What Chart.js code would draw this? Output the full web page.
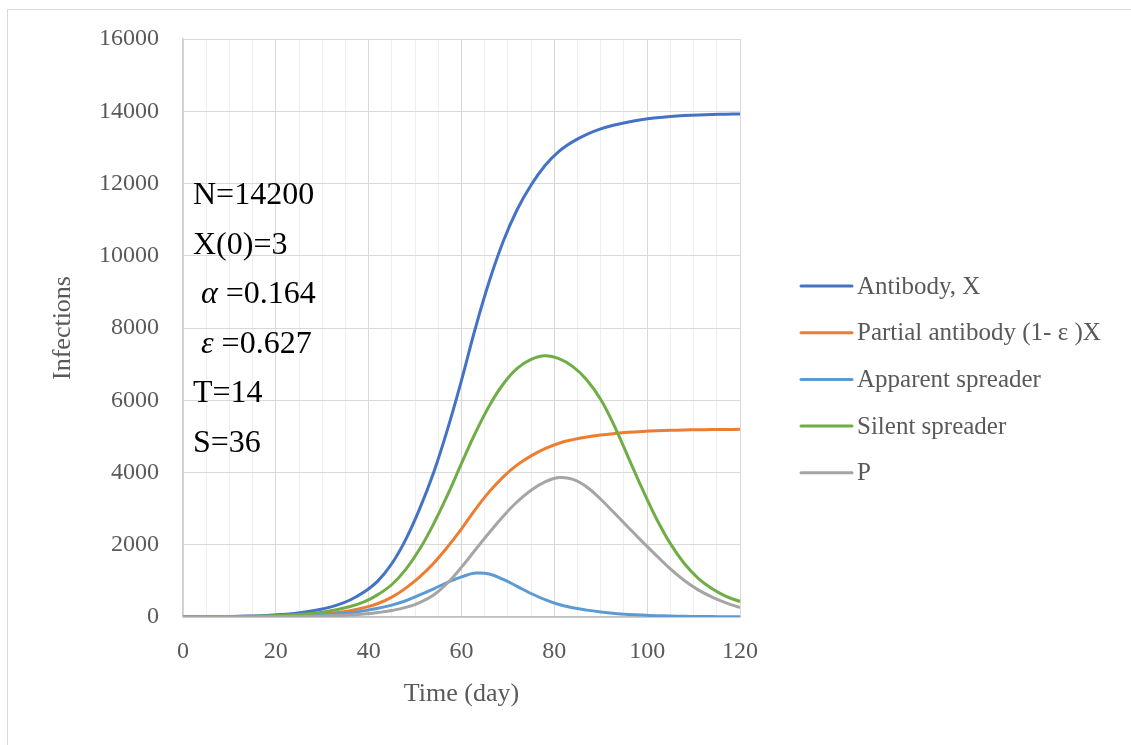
<!DOCTYPE html>
<html>
<head>
<meta charset="utf-8">
<script src="https://cdn.jsdelivr.net/npm/chart.js@4"></script>
<style>
    body { margin: 0; background: #fff; }
    .frame { position: absolute; left: 0; top: 0; width: 1131px; height: 745px; }
    .frame::before { content: ''; position: absolute; left: 7px; top: 9px; right: -5px; bottom: -5px; border: 1px solid #d9d9d9; }
    canvas { position: absolute; left: 0; top: 0; }
</style>
</head>
<body>
<div class="frame">
    <canvas id="chart" width="1131" height="745"></canvas>
</div>
<script>
// time in days, every 3 days
const days = [0, 3, 6, 9, 12, 15, 18, 21, 24, 27, 30, 33, 36, 39, 42, 45, 48, 51, 54, 57, 60,
    63, 66, 69, 72, 75, 78, 81, 84, 87, 90, 93, 96, 99, 102, 105, 108, 111, 114, 117, 120];

const seriesNames = ['Antibody, X', 'Partial antibody (1- ε )X', 'Apparent spreader', 'Silent spreader', 'P'];

const antibody = [3, 5, 8, 13, 20, 30, 45, 68, 100, 150, 220, 320, 470, 690, 1000, 1480, 2150, 3000, 4000, 5200, 6550,
    8000, 9300, 10400, 11280, 11960, 12500, 12890, 13160, 13360, 13510, 13620, 13705, 13770, 13820, 13855, 13880, 13898, 13910, 13919, 13925];

const partial = [1, 2, 3, 5, 7, 11, 17, 25, 37, 56, 82, 119, 175, 257, 373, 550, 800, 1110, 1490, 1940, 2440,
    2980, 3470, 3880, 4210, 4460, 4660, 4810, 4910, 4985, 5040, 5080, 5112, 5136, 5155, 5168, 5177, 5184, 5188, 5192, 5194];

const apparent = [0, 1, 2, 3, 5, 8, 12, 18, 27, 40, 58, 85, 120, 170, 240, 330, 450, 610, 780, 960, 1110,
    1215, 1190, 1040, 850, 650, 480, 345, 255, 190, 140, 100, 72, 52, 37, 27, 20, 15, 11, 8, 6];

const silent = [2, 3, 5, 8, 12, 18, 27, 40, 60, 90, 135, 200, 290, 420, 620, 900, 1320, 1880, 2580, 3380, 4250,
    5100, 5850, 6450, 6880, 7130, 7230, 7150, 6930, 6560, 6020, 5270, 4400, 3530, 2720, 2030, 1480, 1070, 780, 570, 430];

const pValues = [0, 0, 1, 1, 2, 3, 5, 8, 12, 18, 26, 38, 55, 82, 125, 180, 265, 400, 610, 940, 1380,
    1860, 2340, 2790, 3190, 3510, 3740, 3860, 3810, 3600, 3260, 2870, 2470, 2080, 1700, 1330, 1010, 750, 550, 390, 260];

const params = ['N=14200', 'X(0)=3', 'α =0.164', 'ε =0.627', 'T=14', 'S=36'];

const colors = ['#4472C4', '#ED7D31', '#5B9BD5', '#70AD47', '#A5A5A5'];
const serif = '"Liberation Serif", "DejaVu Serif", serif';

const toPoints = vals => vals.map((v, i) => ({ x: days[i], y: v }));
const allSeries = [antibody, partial, apparent, silent, pValues];

const datasets = allSeries.map((vals, i) => ({
    label: seriesNames[i],
    data: toPoints(vals),
    borderColor: colors[i],
    backgroundColor: colors[i],
    borderWidth: 3,
    pointRadius: 0,
    fill: false,
    tension: 0.4,
    order: allSeries.length - i   // later series on top, like Excel
}));

// parameter box + legend drawn by hand
const extras = {
    id: 'extras',
    afterDraw(chart) {
        const ctx = chart.ctx;
        ctx.save();
        ctx.textBaseline = 'middle';
        ctx.textAlign = 'left';

        // parameters
        ctx.fillStyle = '#000';
        params.forEach((txt, i) => {
            const y = 196 + i * 49.5;
            let x = 193;
            if (txt.startsWith('α') || txt.startsWith('ε')) {
                x = 201;
                ctx.font = 'italic 32px ' + serif;
                ctx.fillText(txt[0], x, y);
                x += ctx.measureText(txt[0]).width;
                ctx.font = '32px ' + serif;
                ctx.fillText(txt.slice(1), x, y);
            } else {
                ctx.font = '32px ' + serif;
                ctx.fillText(txt, x, y);
            }
        });

        // legend
        ctx.font = '25px ' + serif;
        seriesNames.forEach((name, i) => {
            const y = 286 + i * 46.7;
            ctx.strokeStyle = colors[i];
            ctx.lineWidth = 3;
            ctx.lineCap = 'round';
            ctx.beginPath();
            ctx.moveTo(801, y);
            ctx.lineTo(852, y);
            ctx.stroke();
            ctx.fillStyle = '#595959';
            ctx.fillText(name, 857, y + 1);
        });
        ctx.restore();
    }
};

new Chart(document.getElementById('chart'), {
    type: 'line',
    data: { datasets },
    options: {
        responsive: false,
        animation: false,
        layout: { padding: { left: 48, top: 39, right: 391, bottom: 35 } },
        plugins: {
            legend: { display: false },
            tooltip: { enabled: false }
        },
        scales: {
            x: {
                type: 'linear',
                min: 0,
                max: 120,
                afterFit: scale => { scale.height = 93; },
                border: { color: '#bfbfbf', width: 1.5 },
                grid: {
                    drawTicks: false,
                    color: c => (c.tick && c.tick.value % 20 === 0) ? '#d9d9d9' : '#eeeeee'
                },
                ticks: {
                    stepSize: 5,
                    autoSkip: false,
                    maxRotation: 0,
                    padding: 20,
                    color: '#595959',
                    font: { family: serif, size: 24 },
                    callback: v => (v % 20 === 0 ? String(v) : '')
                },
                title: {
                    display: true,
                    text: 'Time (day)',
                    color: '#595959',
                    font: { family: serif, size: 26 },
                    padding: 0
                }
            },
            y: {
                min: 0,
                max: 16000,
                afterFit: scale => { scale.width = 135; },
                border: { color: '#d0d0d0', width: 1.5 },
                grid: { drawTicks: false, color: '#d9d9d9' },
                ticks: {
                    stepSize: 2000,
                    padding: 24,
                    color: '#595959',
                    font: { family: serif, size: 24 },
                    callback: v => String(v)
                },
                title: {
                    display: true,
                    text: 'Infections',
                    color: '#595959',
                    font: { family: serif, size: 26 },
                    padding: 0
                }
            }
        }
    },
    plugins: [extras]
});
</script>
</body>
</html>
